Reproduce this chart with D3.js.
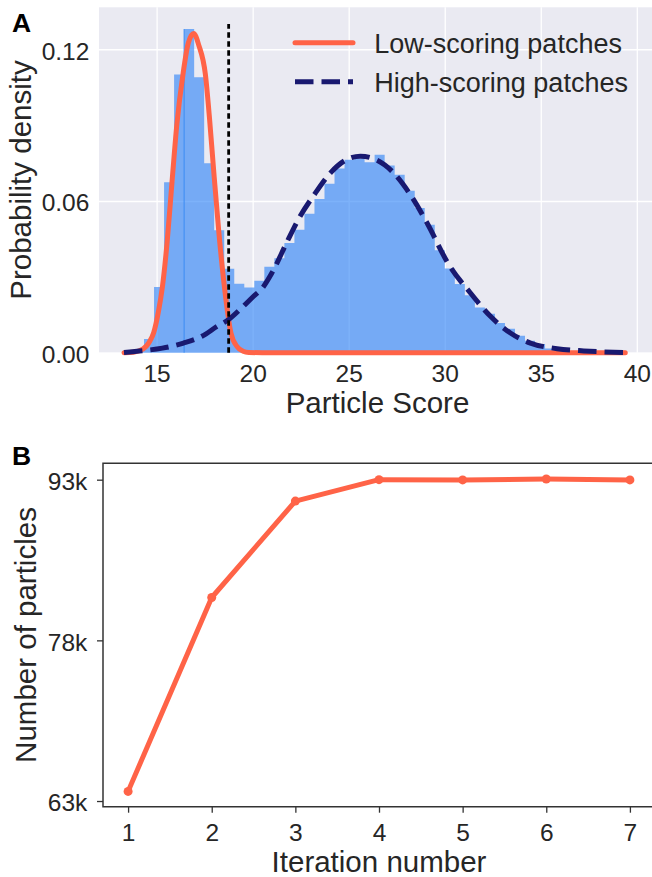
<!DOCTYPE html>
<html>
<head>
<meta charset="utf-8">
<script src="https://cdn.jsdelivr.net/npm/d3@7"></script>
<style>
  body { margin: 0; background: #fff; }
  svg { display: block; font-family: "Liberation Sans", Arial, sans-serif; }
</style>
</head>
<body>
<svg id="chart" width="652" height="877"></svg>
<script>
// panel A: score histogram + fitted curves
const histStart = 13.3;
const histBinWidth = 0.522;
const histDensity = [
  0.0002, 0.0010, 0.0054, 0.0260, 0.0674, 0.1100, 0.1280, 0.1089, 0.0749, 0.0484,
  0.0332, 0.0273, 0.0258, 0.0285, 0.0340, 0.0374, 0.0434, 0.0486, 0.0550, 0.0608,
  0.0668, 0.0728, 0.0763, 0.0767, 0.0753, 0.0783, 0.0740, 0.0704, 0.0640, 0.0572,
  0.0506, 0.0405, 0.0333, 0.0272, 0.0227, 0.0179, 0.0154, 0.0117, 0.0095, 0.0067,
  0.0047, 0.0034, 0.0017, 0.0009, 0.0005, 0.0003, 0.0002, 0.0001, 0.0001, 0.0001
];
const lowCurveX = [13.3, 13.8, 14.3, 14.6, 14.85, 15.1, 15.3, 15.55, 15.8, 16.05, 16.37, 16.65, 16.93,
  17.2, 17.54, 17.75, 17.94, 18.23, 18.53, 18.87, 19.18, 19.5, 19.8, 20.5, 25, 30, 35, 39.4];
const lowCurveY = [0.0000, 0.0002, 0.0015, 0.0040, 0.0080, 0.0165, 0.0260, 0.0440, 0.0674, 0.0900, 0.1100, 0.1225, 0.1262,
  0.1215, 0.1100, 0.0930, 0.0749, 0.0484, 0.0260, 0.0078, 0.0025, 0.0006, 0.0001, 0, 0, 0, 0, 0];
const highCurveX = [13.3, 14.3, 15.3, 16.4, 17.36, 18.15, 18.75, 19.4, 20.05, 20.5, 21.0, 21.8, 22.4, 23.27,
  24.05, 24.83, 25.61, 26.48, 27.34, 28.21, 29.08, 30.2, 31.34, 32.38, 33.42, 34.46, 35.85, 37.24, 39.4];
const highCurveY = [0.0001, 0.0008, 0.0018, 0.0038, 0.0065, 0.0104, 0.0131, 0.0175, 0.0223, 0.0255, 0.0315, 0.0440, 0.0530, 0.0632,
  0.0711, 0.0761, 0.0777, 0.0761, 0.0711, 0.0625, 0.0513, 0.0350, 0.0236, 0.0144, 0.0078, 0.0038, 0.0016, 0.0007, 0.0001];
const cutoffScore = 18.75;
const cutoffTop = 0.130;
const scoreTicks = [15, 20, 25, 30, 35, 40];
const densityTicks = [0, 0.06, 0.12];
const legendLabels = ['Low-scoring patches', 'High-scoring patches'];

// panel B: particles per iteration
const iterations = [1, 2, 3, 4, 5, 6, 7];
const particleCounts = [63900, 82000, 91000, 93000, 92980, 93060, 92980];
const countTicks = [63000, 78000, 93000];

const textColor = '#262626';
const red = '#ff6347';
const navy = '#191970';
const tickFont = '24.5px';
const labelFont = '29.5px';

const svg = d3.select('#chart');

function drawPanelA(){
  const box = {left: 99, right: 656, top: 7.3, bottom: 352.7};
  const x = d3.scaleLinear().domain([12.0, 41.0]).range([box.left, box.right]);
  const y = d3.scaleLinear().domain([0, 0.1366]).range([box.bottom, box.top]);

  const g = svg.append('g').attr('class', 'panel-a');

  g.append('rect')
    .attr('x', box.left).attr('y', box.top)
    .attr('width', box.right - box.left).attr('height', box.bottom - box.top)
    .attr('fill', '#eaeaf2');

  // axes double as the white grid
  const xAxis = g.append('g')
    .attr('transform', 'translate(0,' + box.bottom + ')')
    .call(d3.axisBottom(x).tickValues(scoreTicks).tickSize(-(box.bottom - box.top)).tickPadding(11.6));
  const yAxis = g.append('g')
    .attr('transform', 'translate(' + box.left + ',0)')
    .call(d3.axisLeft(y).tickValues(densityTicks).tickFormat(d3.format('.2f'))
      .tickSize(-(box.right - box.left)).tickPadding(9.7));

  [xAxis, yAxis].forEach(ax => {
    ax.select('.domain').remove();
    ax.selectAll('line').attr('stroke', '#fff').attr('stroke-width', 1.3);
    ax.selectAll('text').attr('fill', textColor).style('font-size', tickFont)
      .style('font-family', '"Liberation Sans", Arial, sans-serif');
  });
  yAxis.selectAll('text').attr('dy', '0.4em');

  // histogram as one stepped area so bars have no seams
  const steps = histDensity.map((d, i) => [histStart + i * histBinWidth, d]);
  steps.push([histStart + histDensity.length * histBinWidth, histDensity[histDensity.length - 1]]);
  const area = d3.area()
    .curve(d3.curveStepAfter)
    .x(d => x(d[0]))
    .y0(y(0))
    .y1(d => y(d[1]));
  g.append('path')
    .datum(steps)
    .attr('d', area)
    .attr('fill', '#277ff6')
    .attr('fill-opacity', 0.6);

  // faint edge seen inside the peak bin
  g.append('line')
    .attr('x1', x(histStart + 6 * histBinWidth)).attr('x2', x(histStart + 6 * histBinWidth))
    .attr('y1', y(0)).attr('y2', y(histDensity[6]))
    .attr('stroke', '#3b8cf4').attr('stroke-width', 1);

  const line = d3.line().curve(d3.curveMonotoneX).x(d => x(d[0])).y(d => y(d[1]));

  g.append('path')
    .datum(lowCurveX.map((d, i) => [d, lowCurveY[i]]))
    .attr('d', line)
    .attr('fill', 'none').attr('stroke', red).attr('stroke-width', 5)
    .attr('stroke-linejoin', 'round').attr('stroke-linecap', 'round');

  g.append('path')
    .datum(highCurveX.map((d, i) => [d, highCurveY[i]]))
    .attr('d', line)
    .attr('fill', 'none').attr('stroke', navy).attr('stroke-width', 5)
    .attr('stroke-dasharray', '18.5,8');

  g.append('line')
    .attr('x1', x(cutoffScore)).attr('x2', x(cutoffScore))
    .attr('y1', y(0)).attr('y2', y(cutoffTop))
    .attr('stroke', '#000').attr('stroke-width', 2.8)
    .attr('stroke-dasharray', '5.5,3.5');

  // legend
  const legend = g.append('g').attr('class', 'legend');
  legendLabels.forEach((label, i) => {
    const ly = 42.7 + i * 39;
    legend.append('line')
      .attr('x1', 295).attr('x2', 353).attr('y1', ly).attr('y2', ly)
      .attr('stroke', i === 0 ? red : navy).attr('stroke-width', 5)
      .attr('stroke-linecap', i === 0 ? 'round' : 'butt')
      .attr('stroke-dasharray', i === 0 ? null : '18.5,8');
    legend.append('text')
      .attr('x', 374.3).attr('y', ly + 10.3)
      .attr('fill', textColor).style('font-size', '27px')
      .text(label);
  });

  g.append('text')
    .attr('transform', 'translate(31,' + ((box.top + box.bottom) / 2) + ') rotate(-90)')
    .attr('text-anchor', 'middle')
    .attr('fill', textColor).style('font-size', labelFont)
    .text('Probability density');

  g.append('text')
    .attr('x', (box.left + box.right) / 2).attr('y', 412.7)
    .attr('text-anchor', 'middle')
    .attr('fill', textColor).style('font-size', labelFont)
    .text('Particle Score');

  g.append('text')
    .attr('x', 12).attr('y', 31.7)
    .attr('fill', '#000').style('font-size', '26.5px').style('font-weight', 'bold')
    .text('A');
}

function drawPanelB(){
  const box = {left: 103, right: 655, top: 463.3, bottom: 806.7};
  const x = d3.scaleLinear().domain([0.7, 7.3]).range([box.left, box.right]);
  const y = d3.scaleLinear().domain([62470, 94530]).range([box.bottom, box.top]);

  const g = svg.append('g').attr('class', 'panel-b');
  const spine = '#333';

  const xAxis = g.append('g')
    .attr('transform', 'translate(0,' + box.bottom + ')')
    .call(d3.axisBottom(x).tickValues(iterations).tickFormat(d3.format('d')).tickSize(6).tickPadding(10.6));
  const yAxis = g.append('g')
    .attr('transform', 'translate(' + box.left + ',0)')
    .call(d3.axisLeft(y).tickValues(countTicks).tickFormat(d => (d / 1000) + 'k').tickSize(6).tickPadding(9.7));

  [xAxis, yAxis].forEach(ax => {
    ax.select('.domain').remove();
    ax.selectAll('line').attr('stroke', spine).attr('stroke-width', 1.3);
    ax.selectAll('text').attr('fill', textColor).style('font-size', tickFont)
      .style('font-family', '"Liberation Sans", Arial, sans-serif');
  });
  yAxis.selectAll('text').attr('dy', '0.4em');

  // spines: left, bottom, top (right one falls outside the picture)
  g.append('path')
    .attr('d', 'M' + box.right + ',' + box.top + 'H' + box.left + 'V' + box.bottom + 'H' + box.right)
    .attr('fill', 'none').attr('stroke', spine).attr('stroke-width', 1.5);

  const line = d3.line().x((d, i) => x(iterations[i])).y(d => y(d));
  g.append('path')
    .datum(particleCounts)
    .attr('d', line)
    .attr('fill', 'none').attr('stroke', red).attr('stroke-width', 5)
    .attr('stroke-linejoin', 'round');

  g.append('g').selectAll('circle').data(particleCounts).join('circle')
    .attr('cx', (d, i) => x(iterations[i]))
    .attr('cy', d => y(d))
    .attr('r', 4.5)
    .attr('fill', red);

  g.append('text')
    .attr('transform', 'translate(36,' + ((box.top + box.bottom) / 2) + ') rotate(-90)')
    .attr('text-anchor', 'middle')
    .attr('fill', textColor).style('font-size', labelFont)
    .text('Number of particles');

  g.append('text')
    .attr('x', (box.left + box.right) / 2).attr('y', 871.7)
    .attr('text-anchor', 'middle')
    .attr('fill', textColor).style('font-size', labelFont)
    .text('Iteration number');

  g.append('text')
    .attr('x', 12).attr('y', 465)
    .attr('fill', '#000').style('font-size', '26.5px').style('font-weight', 'bold')
    .text('B');
}

drawPanelA();
drawPanelB();
</script>
</body>
</html>
